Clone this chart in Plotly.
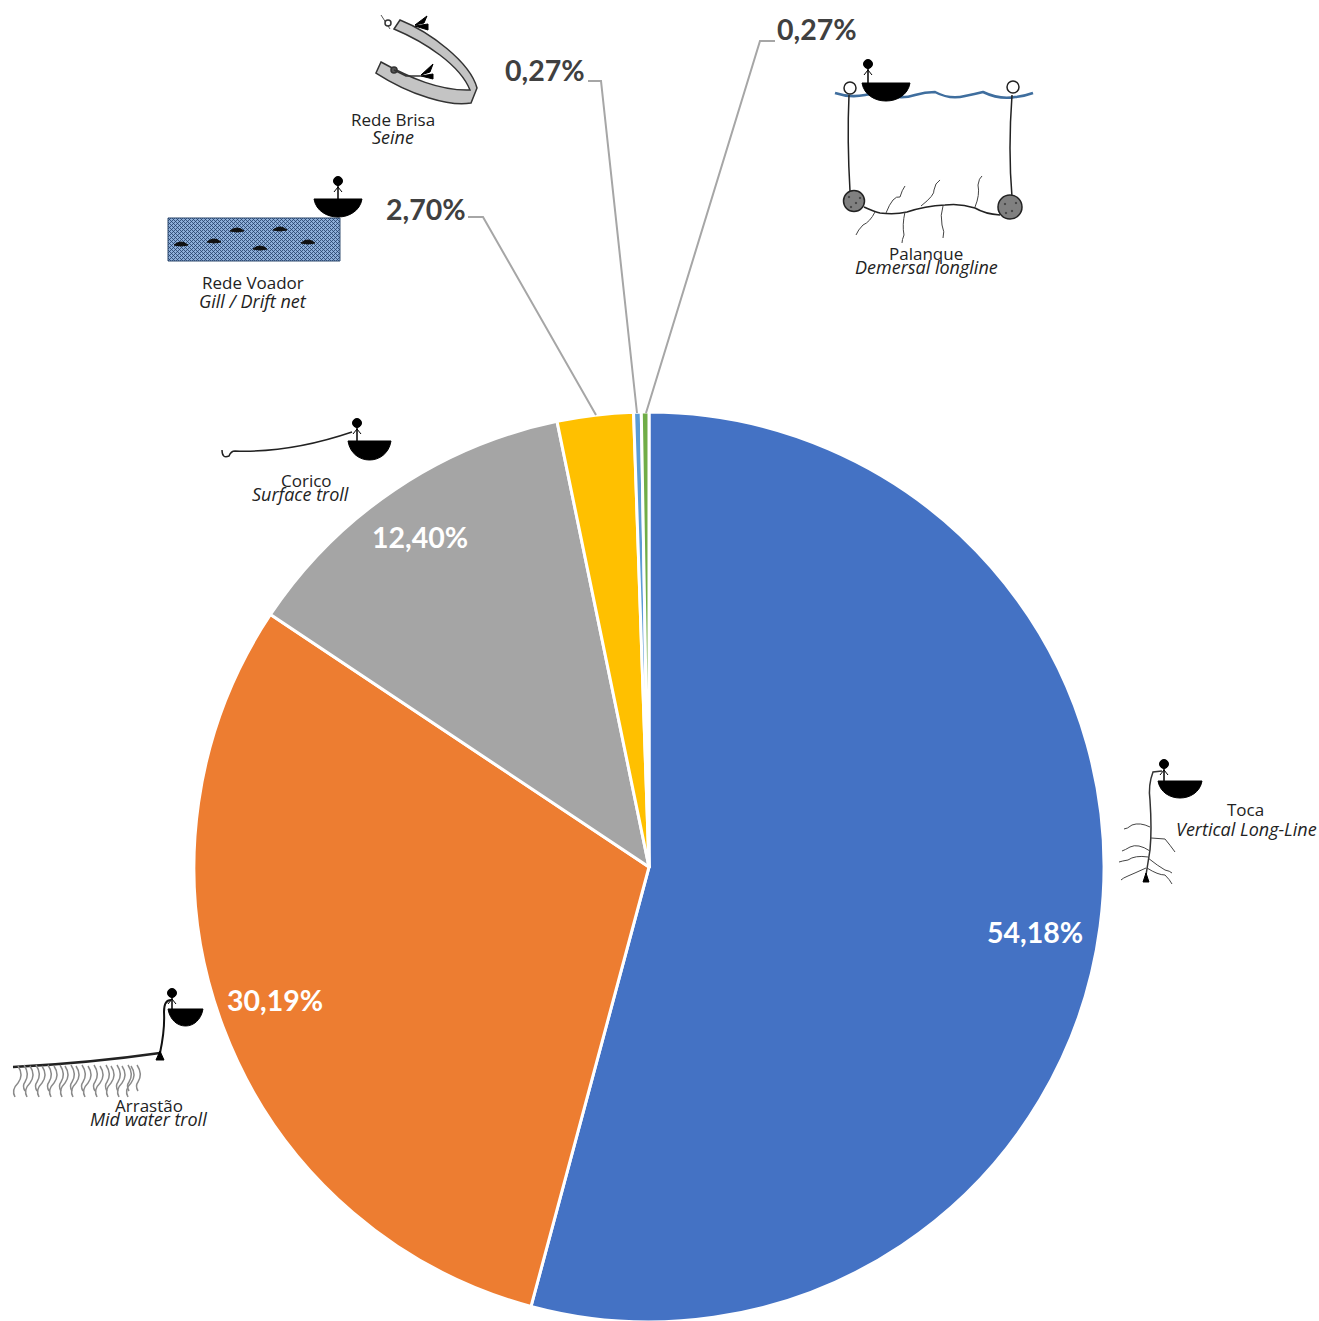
import plotly.graph_objects as go

W, H = 1319, 1324  # a little taller than the window: the pie runs off the bottom edge

# ---- data ----
gears = ["Toca", "Arrastão", "Corico", "Rede Voador", "Rede Brisa", "Palanque"]
gears_en = ["Vertical Long-Line", "Mid water troll", "Surface troll",
            "Gill / Drift net", "Seine", "Demersal longline"]
shares = [54.18, 30.19, 12.40, 2.70, 0.27, 0.27]
share_labels = ["54,18%", "30,19%", "12,40%", "2,70%", "0,27%", "0,27%"]
colors = ["#4472C4", "#ED7D31", "#A5A5A5", "#FFC000", "#5B9BD5", "#70AD47"]

# label anchor positions in pixels
share_pos = [(1035, 932), (275, 1000), (420, 537), (426, 209), (545, 70), (817, 29)]
name_pos = [(1245, 809), (149, 1105), (306, 480), (253, 283), (393, 119), (926, 253)]
name_en_pos = [(1246, 829), (148, 1119), (300, 494), (253, 301), (393, 137), (927, 267)]

leaders = [
    [(468, 217), (483, 217), (596, 415)],
    [(588, 81), (601, 81), (637, 413)],
    [(775, 41), (760, 41), (646, 413)],
]
# boat: x0, x1, top, bottom, head x, head y
boats = [
    (314, 362, 199, 217, 338, 181),
    (862, 910, 83, 101, 868, 64),
    (348, 391, 441, 460, 357, 423),
    (1158, 1202, 781, 798, 1164, 764),
    (168, 203, 1009, 1026, 172, 993),
]
fish = [(181, 244), (214, 241), (237, 230), (260, 248), (280, 229), (308, 242)]
arrastao_hook_x = [18, 30, 42, 54, 65, 76, 88, 100, 111, 122, 131]
rock_dots = [(849, 197), (856, 203), (851, 207), (860, 198), (1005, 204), (1012, 211), (1016, 203), (1006, 213)]

fx = lambda x: x / W
fy = lambda y: 1 - y / H


def path(s):
    """Convert a pixel-space path 'M x y L x y ...' into paper coordinates."""
    out, is_x = [], True
    for tok in s.split():
        if tok.isalpha():
            out.append(tok)
            is_x = True
        else:
            v = float(tok)
            out.append(f"{fx(v):.5f}" if is_x else f"{fy(v):.5f}")
            is_x = not is_x
    return " ".join(out)


shapes = []


def draw(s, color="#222222", width=1.5, fill=None):
    d = dict(type="path", xref="paper", yref="paper", path=path(s),
             line=dict(color=color, width=width))
    if fill:
        d["fillcolor"] = fill
    shapes.append(d)


def disc(x, y, r, fill="#000000", line="#000000", width=1):
    shapes.append(dict(type="circle", xref="paper", yref="paper",
                       x0=fx(x - r), x1=fx(x + r), y0=fy(y + r), y1=fy(y - r),
                       fillcolor=fill, line=dict(color=line, width=width)))


# leader lines
for pts in leaders:
    s = "M " + " L ".join(f"{x} {y}" for x, y in pts)
    draw(s, "#A6A6A6", 2)

# Rede Voador net
draw("M 168 218 L 340 218 L 340 261 L 168 261 Z", "#2F4B6E", 1, "#8FB0DA")
hatch = ""
for i in range(-12, 44):
    x = 168 + i * 4
    a0 = max(x, 168); a1 = min(x + 43, 340)
    if a1 > a0:
        hatch += f"M {a0} {218 + a0 - x} L {a1} {218 + a1 - x} "
        hatch += f"M {a0} {261 - (a0 - x)} L {a1} {261 - (a1 - x)} "
draw(hatch, "#24406A", 0.8)
for x, y in fish:
    draw(f"M {x-7} {y+1} Q {x} {y-5} {x+7} {y+1} Q {x} {y+3} {x-7} {y+1} Z",
         "#111111", 1, "#111111")

# Rede Brisa band
draw("M 394 29 L 400 20 C 430 32 470 62 477 88 L 471 103 C 450 107 410 95 376 73 "
     "L 381 62 C 410 78 440 91 470 90 C 460 65 425 42 394 29 Z",
     "#333333", 1.5, "#C4C4C4")
draw("M 415 25 L 427 16 L 424 23 Z", "#000000", 1, "#000000")
draw("M 415 26 L 428 24 L 428 30 Z", "#000000", 1, "#000000")
draw("M 421 75 L 433 64 L 430 72 Z", "#000000", 1, "#000000")
draw("M 421 76 L 433 74 L 433 79 Z", "#000000", 1, "#000000")
draw("M 381 15 L 390 29", "#555555", 1)
disc(388, 23, 3, "#FFFFFF", "#333333", 1.5)
disc(394, 70, 3, "#555555", "#333333", 1.5)
draw("M 394 70 L 406 76 L 421 76", "#333333", 1.5)

# Palanque
draw("M 835 93 Q 850 98 865 95 Q 880 92 885 94 Q 900 100 915 95 Q 925 92 935 92 "
     "Q 950 100 965 96 Q 975 94 983 92 Q 1000 100 1015 97 Q 1025 96 1033 93",
     "#3F6E9E", 2.5)
disc(850, 88, 6, "#FFFFFF", "#222222", 1.5)
disc(1013, 87, 6, "#FFFFFF", "#222222", 1.5)
draw("M 849 95 Q 847 140 850 191", "#222222", 1.5)
draw("M 1012 95 Q 1008 150 1012 197", "#222222", 1.5)
disc(854, 201, 10.5, "#808080", "#222222", 1.5)
disc(1010, 207, 12, "#808080", "#222222", 1.5)
for x, y in rock_dots:
    disc(x, y, 0.8, "#333333", "#333333", 0.5)
draw("M 864 207 Q 875 212 880 213 Q 895 215 907 212 Q 925 206 945 205 "
     "Q 960 203 975 208 Q 985 214 1000 215", "#222222", 1.5)
for b in ["M 886 213 Q 893 195 900 197 Q 902 190 905 186",
          "M 921 206 Q 935 195 934 190 Q 935 183 940 180",
          "M 975 207 Q 980 195 978 185 Q 979 178 982 176",
          "M 875 212 Q 870 222 863 225 Q 858 230 856 235",
          "M 905 212 Q 902 225 904 235 Q 902 240 902 243",
          "M 943 206 Q 940 215 942 225 Q 945 232 943 238"]:
    draw(b, "#444444", 1)

# Toca
draw("M 1162 771 L 1153 772 Q 1148 785 1150 800 Q 1152 830 1150 850 L 1146 875", "#333333", 1.5)
draw("M 1146 873 L 1149 882 L 1143 882 Z", "#000000", 1, "#000000")
for b in ["M 1150 827 Q 1140 822 1132 825 Q 1127 829 1124 829",
          "M 1151 838 L 1165 839 Q 1170 845 1175 852",
          "M 1150 851 Q 1138 843 1130 847 Q 1125 850 1122 851",
          "M 1148 857 Q 1135 855 1128 860 Q 1122 861 1119 862",
          "M 1148 858 Q 1158 866 1165 870 Q 1170 871 1172 873",
          "M 1146 868 Q 1135 873 1128 876 Q 1123 878 1121 880",
          "M 1147 868 Q 1158 875 1165 875 Q 1170 880 1172 884"]:
    draw(b, "#444444", 1)

# Arrastão
draw("M 13 1067 Q 90 1063 160 1053", "#222222", 2.5)
draw("M 160 1053 Q 165 1030 164 1012 Q 164 1000 171 1000", "#111111", 2)
draw("M 160 1051 L 164 1060 L 156 1060 Z", "#000000", 1, "#000000")
for x in arrastao_hook_x:
    draw(f"M {x} 1066 Q {x+6} 1075 {x} 1083 Q {x-7} 1090 {x-3} 1097", "#8A8A8A", 1.5)
    draw(f"M {x+6} 1065 Q {x+12} 1074 {x+7} 1082 Q {x+4} 1086 {x+7} 1091", "#8A8A8A", 1.5)

# Corico
draw("M 222 450 Q 222 459 229 456 Q 231 451 235 451 Q 290 453 352 432", "#222222", 1.5)

# boats and fishers
for x0, x1, top, bot, hx, hy in boats:
    k = (bot - top) * 4 / 3
    draw(f"M {x0} {top} C {x0+4} {top+k} {x1-4} {top+k} {x1} {top} Z",
         "#000000", 1, "#000000")
    disc(hx, hy, 4.5)
    draw(f"M {hx} {hy} L {hx} {top}", "#000000", 1.5)
    draw(f"M {hx-4} {hy+11} L {hx} {hy+6} L {hx+4} {hy+11}", "#000000", 1)

# ---- figure ----
annotations = []


def note(x, y, text, size, color, family, bold=False, italic=False):
    annotations.append(dict(
        x=fx(x), y=fy(y), xref="paper", yref="paper", xanchor="center", yanchor="middle",
        showarrow=False, text=text,
        font=dict(family=family, size=size, color=color,
                  weight="bold" if bold else "normal",
                  style="italic" if italic else "normal")))


for i, (label, pos) in enumerate(zip(share_labels, share_pos)):
    note(pos[0], pos[1], label, 28.5, "#FFFFFF" if i < 3 else "#404040", "Lato", bold=True)
for name, pos in zip(gears, name_pos):
    note(pos[0], pos[1], name, 17, "#222222", "Open Sans")
for name, pos in zip(gears_en, name_en_pos):
    note(pos[0], pos[1], name, 18, "#222222", "Open Sans", italic=True)

fig = go.Figure(go.Pie(
    labels=gears, values=shares, sort=False, direction="clockwise", rotation=0,
    marker=dict(colors=colors, line=dict(color="#FFFFFF", width=3)),
    textinfo="none", hoverinfo="label+percent", showlegend=False,
    domain=dict(x=[fx(194), fx(1104)], y=[fy(1322), fy(412)]),
))
fig.update_layout(width=W, height=H, margin=dict(l=0, r=0, t=0, b=0),
                  paper_bgcolor="#FFFFFF", shapes=shapes, annotations=annotations)
fig.write_html("out.html", config={"displayModeBar": False},
               post_script="document.body.style.margin='0';document.body.style.overflow='hidden';"
                           "document.documentElement.style.overflow='hidden';")
